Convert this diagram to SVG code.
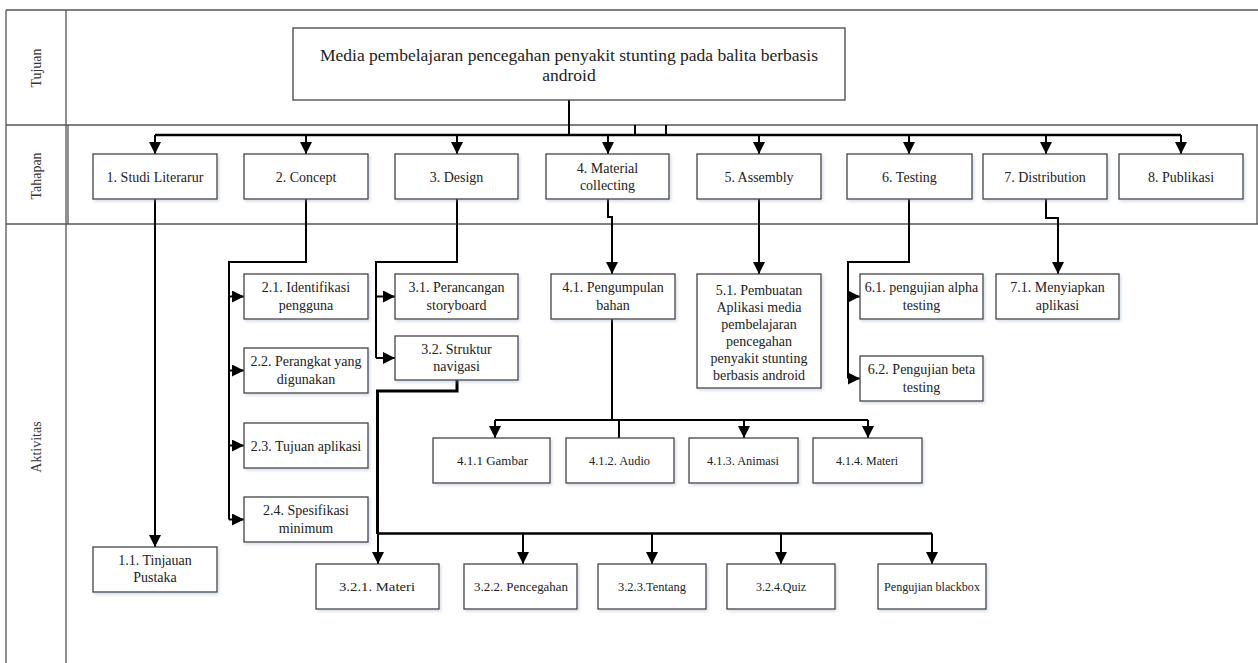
<svg xmlns="http://www.w3.org/2000/svg" width="1258" height="663" viewBox="0 0 1258 663" font-family="'Liberation Serif', 'DejaVu Serif', serif">
<style>
.frame{stroke:#555;stroke-width:1.3;fill:none}
.box{fill:#fff;stroke:#444;stroke-width:1.3;filter:url(#sh)}
.t{font-family:'Liberation Serif','DejaVu Serif',serif;font-size:14px;fill:#222;text-anchor:middle}
.s{font-size:13.5px}
.big{font-size:17.5px}
.lbl{font-family:'Liberation Serif','DejaVu Serif',serif;font-size:14px;fill:#333;text-anchor:middle}
.c{fill:none;stroke:#000;stroke-width:2}
.ca{fill:none;stroke:#000;stroke-width:2;marker-end:url(#ah)}
.thick{fill:none;stroke:#000;stroke-width:3}
</style>
<defs>
<marker id="ah" markerUnits="userSpaceOnUse" viewBox="0 0 12 12" markerWidth="12" markerHeight="12" refX="12" refY="6" orient="auto">
<path d="M0,0 L12,6 L0,12 z" fill="#000"/>
</marker>
<filter id="sh" x="-10%" y="-10%" width="125%" height="130%">
<feDropShadow dx="1.5" dy="2" stdDeviation="1.5" flood-color="#8fa3c0" flood-opacity="0.35"/>
</filter>
</defs>
<rect width="1258" height="663" fill="#fff"/>
<g id="frame">
<path class="frame" d="M6,10 H1258 M6,10 V663 M66,10 V663 M6,125 H1258 M6,224 H1258 M68,125 V224 M1257,125 V224"/>
<text class="lbl" transform="translate(41,68) rotate(-90)">Tujuan</text>
<text class="lbl" transform="translate(41,176) rotate(-90)">Tahapan</text>
<text class="lbl" transform="translate(41,447) rotate(-90)">Aktivitas</text>
</g>
<g id="connectors">
<path class="c" d="M569,100 V135"/>
<path class="c" d="M635,125 V135 M666,125 V135"/>
<path class="c" d="M155,135 H1181" style="stroke-width:2.5"/>
<path class="ca" d="M155,135 V154"/>
<path class="ca" d="M306,135 V154"/>
<path class="ca" d="M457,135 V154"/>
<path class="ca" d="M608,135 V154"/>
<path class="ca" d="M759,135 V154"/>
<path class="ca" d="M909,135 V154"/>
<path class="ca" d="M1046,135 V154"/>
<path class="ca" d="M1181,135 V154"/>
<path class="ca" d="M155,199 V547"/>
<path class="c" d="M306,199 V262 H229 V519.5"/>
<path class="ca" d="M229,296.5 H244"/>
<path class="ca" d="M229,370.5 H244"/>
<path class="ca" d="M229,445.5 H244"/>
<path class="ca" d="M229,519.5 H244"/>
<path class="c" d="M457,199 V262 H376 V358"/>
<path class="ca" d="M376,296.5 H395"/>
<path class="ca" d="M376,358 H395"/>
<path class="thick" d="M457,380 V391 H377.5 V534"/>
<path class="c" d="M377,533.5 H932" style="stroke-width:2.5"/>
<path class="ca" d="M378,533.5 V564"/>
<path class="ca" d="M523,533.5 V564"/>
<path class="ca" d="M652,533.5 V564"/>
<path class="ca" d="M781,533.5 V564"/>
<path class="ca" d="M932,533.5 V564"/>
<path class="ca" d="M608,199 V217 H612 V274"/>
<path class="c" d="M612,319 V420"/>
<path class="c" d="M495,420 H868"/>
<path class="ca" d="M495,420 V438"/>
<path class="c" d="M619,420 V438"/>
<path class="ca" d="M744,420 V438"/>
<path class="ca" d="M868,420 V438"/>
<path class="ca" d="M759,199 V274"/>
<path class="c" d="M909,199 V262 H848 V378.5"/>
<path class="ca" d="M848,296.5 H860"/>
<path class="ca" d="M848,378.5 H860"/>
<path class="ca" d="M1046,199 V218 H1058 V274"/>
</g>
<g id="goal">
<rect x="293" y="28" width="552" height="72" fill="#fff" stroke="#444" stroke-width="1.3"/>
<text class="t big" x="569" y="61">Media pembelajaran pencegahan penyakit stunting pada balita berbasis</text>
<text class="t big" x="569" y="81">android</text>
</g>
<g id="s1"><rect class="box" x="93" y="154" width="124" height="45"/><text class="t" x="155" y="181.5">1. Studi Literarur</text></g>
<g id="s2"><rect class="box" x="244" y="154" width="124" height="45"/><text class="t" x="306" y="181.5">2. Concept</text></g>
<g id="s3"><rect class="box" x="395" y="154" width="123" height="45"/><text class="t" x="456.5" y="181.5">3. Design</text></g>
<g id="s4"><rect class="box" x="546" y="154" width="123" height="45"/><text class="t" x="607.5" y="173">4. Material</text><text class="t" x="607.5" y="190">collecting</text></g>
<g id="s5"><rect class="box" x="697" y="154" width="124" height="45"/><text class="t" x="759" y="181.5">5. Assembly</text></g>
<g id="s6"><rect class="box" x="847" y="154" width="125" height="45"/><text class="t" x="909.5" y="181.5">6. Testing</text></g>
<g id="s7"><rect class="box" x="983" y="154" width="124" height="45"/><text class="t" x="1045" y="181.5">7. Distribution</text></g>
<g id="s8"><rect class="box" x="1119" y="154" width="124" height="45"/><text class="t" x="1181" y="181.5">8. Publikasi</text></g>
<g id="a11"><rect class="box" x="93" y="547" width="124" height="45"/><text class="t" x="155" y="565">1.1. Tinjauan</text><text class="t" x="155" y="582">Pustaka</text></g>
<g id="a21"><rect class="box" x="244" y="274" width="124" height="45"/><text class="t" x="306" y="292">2.1. Identifikasi</text><text class="t" x="306" y="310">pengguna</text></g>
<g id="a22"><rect class="box" x="244" y="348" width="124" height="45"/><text class="t" x="306" y="366">2.2. Perangkat yang</text><text class="t" x="306" y="384">digunakan</text></g>
<g id="a23"><rect class="box" x="244" y="423" width="124" height="45"/><text class="t" x="306" y="450.5">2.3. Tujuan aplikasi</text></g>
<g id="a24"><rect class="box" x="244" y="497" width="124" height="45"/><text class="t" x="306" y="515">2.4. Spesifikasi</text><text class="t" x="306" y="533">minimum</text></g>
<g id="a31"><rect class="box" x="395" y="274" width="123" height="45"/><text class="t" x="456.5" y="292">3.1. Perancangan</text><text class="t" x="456.5" y="310">storyboard</text></g>
<g id="a32"><rect class="box" x="395" y="336" width="123" height="44"/><text class="t" x="456.5" y="354">3.2. Struktur</text><text class="t" x="456.5" y="371">navigasi</text></g>
<g id="a41"><rect class="box" x="551" y="274" width="124" height="45"/><text class="t" x="613" y="292">4.1.  Pengumpulan</text><text class="t" x="613" y="310">bahan</text></g>
<g id="a51"><rect class="box" x="697" y="274" width="124" height="114"/>
<text class="t" x="759" y="295">5.1. Pembuatan</text><text class="t" x="759" y="312">Aplikasi media</text><text class="t" x="759" y="329">pembelajaran</text><text class="t" x="759" y="346">pencegahan</text><text class="t" x="759" y="363">penyakit stunting</text><text class="t" x="759" y="380">berbasis android</text></g>
<g id="a61"><rect class="box" x="860" y="274" width="123" height="45"/><text class="t" x="921.5" y="292">6.1. pengujian alpha</text><text class="t" x="921.5" y="310">testing</text></g>
<g id="a62"><rect class="box" x="860" y="356" width="123" height="45"/><text class="t" x="921.5" y="374">6.2. Pengujian beta</text><text class="t" x="921.5" y="392">testing</text></g>
<g id="a71"><rect class="box" x="996" y="274" width="123" height="45"/><text class="t" x="1057.5" y="292">7.1. Menyiapkan</text><text class="t" x="1057.5" y="310">aplikasi</text></g>
<g id="a411"><rect class="box" x="433" y="438" width="117" height="45"/><text class="t s" x="492.5" y="465" textLength="71" lengthAdjust="spacingAndGlyphs">4.1.1 Gambar</text></g>
<g id="a412"><rect class="box" x="566" y="438" width="108" height="45"/><text class="t s" x="619.5" y="465" textLength="61" lengthAdjust="spacingAndGlyphs">4.1.2. Audio</text></g>
<g id="a413"><rect class="box" x="689" y="438" width="109" height="45"/><text class="t s" x="743" y="465" textLength="72" lengthAdjust="spacingAndGlyphs">4.1.3. Animasi</text></g>
<g id="a414"><rect class="box" x="813" y="438" width="109" height="45"/><text class="t s" x="867" y="465" textLength="62" lengthAdjust="spacingAndGlyphs">4.1.4. Materi</text></g>
<g id="a321"><rect class="box" x="316" y="564" width="123" height="45"/><text class="t s" x="377" y="591" textLength="76" lengthAdjust="spacingAndGlyphs">3.2.1.  Materi</text></g>
<g id="a322"><rect class="box" x="464" y="564" width="113" height="45"/><text class="t s" x="521" y="591" textLength="94" lengthAdjust="spacingAndGlyphs">3.2.2. Pencegahan</text></g>
<g id="a323"><rect class="box" x="598" y="564" width="108" height="45"/><text class="t s" x="652" y="591" textLength="68" lengthAdjust="spacingAndGlyphs">3.2.3.Tentang</text></g>
<g id="a324"><rect class="box" x="727" y="564" width="108" height="45"/><text class="t s" x="781" y="591" textLength="50" lengthAdjust="spacingAndGlyphs">3.2.4.Quiz</text></g>
<g id="a325"><rect class="box" x="878" y="564" width="108" height="45"/><text class="t s" x="932" y="591" textLength="96" lengthAdjust="spacingAndGlyphs">Pengujian blackbox</text></g>
</svg>
